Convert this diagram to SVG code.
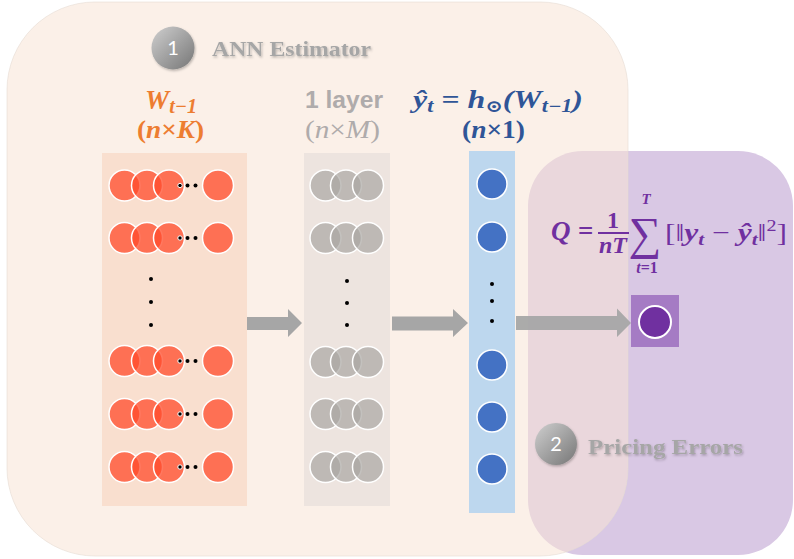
<svg xmlns="http://www.w3.org/2000/svg" width="794" height="559" viewBox="0 0 794 559">
  <defs>
    <linearGradient id="badgeGrad" x1="0" y1="0" x2="1" y2="1">
      <stop offset="0" stop-color="#CFCFCF"/>
      <stop offset="1" stop-color="#767676"/>
    </linearGradient>
    <filter id="soft" x="-20%" y="-20%" width="140%" height="140%">
      <feDropShadow dx="1" dy="1.5" stdDeviation="1" flood-color="#000" flood-opacity="0.25"/>
    </filter>
  </defs>
  <style>
    .panel-est { fill: #F8E4D5; opacity: 0.55; }
    .panel-err { fill: #D9C8E4; }
    .in-node { fill: #FF4B2B; fill-opacity: 0.75; stroke: #FFFFFF; stroke-width: 1.5; }
    .hid-node { fill: #A9A6A3; fill-opacity: 0.7; stroke: #FFFFFF; stroke-width: 1.5; }
    .out-node { fill: #4472C4; stroke: #FFFFFF; stroke-width: 1.5; }
    .dot { fill: #000000; }
    .hdot { fill: #000000; stroke: #FFFFFF; stroke-width: 1; }
    .arrow { fill: #A6A6A6; }
    .badge-num { font-family: Lato, "Open Sans", "Liberation Sans", sans-serif; font-size: 20px; fill: #FFFFFF; text-anchor: middle; }
    .title { font-family: "Liberation Serif", "DejaVu Serif", serif; font-weight: bold; font-size: 22px; fill: #A6A6A6; }
    .math { font-family: "Liberation Serif", "DejaVu Serif", serif; }
  </style>

  <!-- container panels -->
  <g id="pricing-errors-panel">
    <rect class="panel-err" x="528" y="151" width="265" height="404" rx="55" ry="55"/>
  </g>
  <g id="ann-estimator-panel">
    <rect class="panel-est" x="7" y="2" width="621" height="554" rx="88" ry="88"/>
    <rect x="7" y="2" width="621" height="554" rx="88" ry="88" fill="none" stroke="#E6DCD4" stroke-width="1" stroke-opacity="0.6"/>
  </g>

  <!-- section badges -->
  <g id="badge-ann">
    <circle cx="173" cy="48" r="21.5" fill="url(#badgeGrad)" filter="url(#soft)"/>
    <text class="badge-num" x="173" y="55">1</text>
    <text class="title" x="212" y="56" textLength="159" lengthAdjust="spacingAndGlyphs" filter="url(#soft)">ANN Estimator</text>
  </g>
  <g id="badge-pricing">
    <circle cx="556" cy="444" r="21" fill="url(#badgeGrad)" filter="url(#soft)"/>
    <text class="badge-num" x="556" y="451">2</text>
    <text class="title" x="588" y="454" textLength="155" lengthAdjust="spacingAndGlyphs" filter="url(#soft)">Pricing Errors</text>
  </g>

  <!-- input layer W_{t-1} -->
  <g id="input-layer">
    <rect x="102" y="153" width="145" height="353" fill="#F9DFCF"/>
    <text class="math" x="145" y="109" font-size="27" font-weight="bold" font-style="italic" fill="#ED7D31" textLength="52" lengthAdjust="spacingAndGlyphs">W<tspan font-size="20" dy="4">t−1</tspan></text>
    <text class="math" x="137" y="138" font-size="25" font-weight="bold" fill="#ED7D31" textLength="67" lengthAdjust="spacingAndGlyphs">(<tspan font-style="italic">n</tspan>×<tspan font-style="italic">K</tspan>)</text>
    <g id="input-row-1">
      <circle class="in-node" cx="124.5" cy="185.5" r="15.5"/>
      <circle class="in-node" cx="147" cy="185.5" r="15.5"/>
      <circle class="in-node" cx="169" cy="185.5" r="15.5"/>
      <circle class="hdot" cx="180" cy="185.5" r="2.2"/>
      <circle class="dot" cx="187.5" cy="185.5" r="2"/>
      <circle class="dot" cx="195.5" cy="185.5" r="2"/>
      <circle class="in-node" cx="218" cy="185.5" r="15.5"/>
    </g>
    <g id="input-row-2">
      <circle class="in-node" cx="124.5" cy="238" r="15.5"/>
      <circle class="in-node" cx="147" cy="238" r="15.5"/>
      <circle class="in-node" cx="169" cy="238" r="15.5"/>
      <circle class="hdot" cx="180" cy="238" r="2.2"/>
      <circle class="dot" cx="187.5" cy="238" r="2"/>
      <circle class="dot" cx="195.5" cy="238" r="2"/>
      <circle class="in-node" cx="218" cy="238" r="15.5"/>
    </g>
    <circle class="dot" cx="151" cy="279" r="2"/>
    <circle class="dot" cx="151" cy="302" r="2"/>
    <circle class="dot" cx="151" cy="325" r="2"/>
    <g id="input-row-3">
      <circle class="in-node" cx="124.5" cy="361" r="15.5"/>
      <circle class="in-node" cx="147" cy="361" r="15.5"/>
      <circle class="in-node" cx="169" cy="361" r="15.5"/>
      <circle class="hdot" cx="180" cy="361" r="2.2"/>
      <circle class="dot" cx="187.5" cy="361" r="2"/>
      <circle class="dot" cx="195.5" cy="361" r="2"/>
      <circle class="in-node" cx="218" cy="361" r="15.5"/>
    </g>
    <g id="input-row-4">
      <circle class="in-node" cx="124.5" cy="414" r="15.5"/>
      <circle class="in-node" cx="147" cy="414" r="15.5"/>
      <circle class="in-node" cx="169" cy="414" r="15.5"/>
      <circle class="hdot" cx="180" cy="414" r="2.2"/>
      <circle class="dot" cx="187.5" cy="414" r="2"/>
      <circle class="dot" cx="195.5" cy="414" r="2"/>
      <circle class="in-node" cx="218" cy="414" r="15.5"/>
    </g>
    <g id="input-row-5">
      <circle class="in-node" cx="124.5" cy="467" r="15.5"/>
      <circle class="in-node" cx="147" cy="467" r="15.5"/>
      <circle class="in-node" cx="169" cy="467" r="15.5"/>
      <circle class="hdot" cx="180" cy="467" r="2.2"/>
      <circle class="dot" cx="187.5" cy="467" r="2"/>
      <circle class="dot" cx="195.5" cy="467" r="2"/>
      <circle class="in-node" cx="218" cy="467" r="15.5"/>
    </g>
  </g>

  <!-- hidden layer -->
  <g id="hidden-layer">
    <rect x="304" y="153" width="86" height="353" fill="#EDE4DF"/>
    <text x="305" y="108" font-family="'Liberation Sans', Arial, sans-serif" font-size="23" font-weight="bold" fill="#AFABAB" textLength="78" lengthAdjust="spacingAndGlyphs">1 layer</text>
    <text class="math" x="305" y="138" font-size="25" fill="#AFABAB" textLength="75" lengthAdjust="spacingAndGlyphs">(<tspan font-style="italic">n</tspan>×<tspan font-style="italic">M</tspan>)</text>
    <g id="hidden-row-1">
      <circle class="hid-node" cx="325.5" cy="185.5" r="15.5"/>
      <circle class="hid-node" cx="346" cy="185.5" r="15.5"/>
      <circle class="hid-node" cx="368" cy="185.5" r="15.5"/>
    </g>
    <g id="hidden-row-2">
      <circle class="hid-node" cx="325.5" cy="238" r="15.5"/>
      <circle class="hid-node" cx="346" cy="238" r="15.5"/>
      <circle class="hid-node" cx="368" cy="238" r="15.5"/>
    </g>
    <circle class="dot" cx="347" cy="281" r="2"/>
    <circle class="dot" cx="347" cy="303" r="2"/>
    <circle class="dot" cx="347" cy="325" r="2"/>
    <g id="hidden-row-3">
      <circle class="hid-node" cx="325.5" cy="362" r="15.5"/>
      <circle class="hid-node" cx="346" cy="362" r="15.5"/>
      <circle class="hid-node" cx="368" cy="362" r="15.5"/>
    </g>
    <g id="hidden-row-4">
      <circle class="hid-node" cx="325.5" cy="414" r="15.5"/>
      <circle class="hid-node" cx="346" cy="414" r="15.5"/>
      <circle class="hid-node" cx="368" cy="414" r="15.5"/>
    </g>
    <g id="hidden-row-5">
      <circle class="hid-node" cx="325.5" cy="467" r="15.5"/>
      <circle class="hid-node" cx="346" cy="467" r="15.5"/>
      <circle class="hid-node" cx="368" cy="467" r="15.5"/>
    </g>
  </g>

  <!-- output layer y-hat -->
  <g id="output-layer">
    <rect x="469" y="151" width="46" height="362" fill="#BDD7EE"/>
    <text class="math" x="413" y="108" font-size="26" font-weight="bold" font-style="italic" fill="#2F5597" textLength="170" lengthAdjust="spacingAndGlyphs">ŷ<tspan font-size="18" dy="4">t</tspan><tspan dy="-4"> = h</tspan><tspan font-size="17" dy="4" font-style="normal">⊙</tspan><tspan dy="-4">(W</tspan><tspan font-size="18" dy="4">t−1</tspan><tspan dy="-4">)</tspan></text>
    <text class="math" x="462" y="138" font-size="25" font-weight="bold" fill="#2F5597" textLength="63" lengthAdjust="spacingAndGlyphs">(<tspan font-style="italic">n</tspan>×1)</text>
    <circle class="out-node" cx="492" cy="184" r="15"/>
    <circle class="out-node" cx="492" cy="237" r="15"/>
    <circle class="dot" cx="492" cy="284" r="2"/>
    <circle class="dot" cx="492" cy="301" r="2"/>
    <circle class="dot" cx="492" cy="321" r="2"/>
    <circle class="out-node" cx="492" cy="365" r="15"/>
    <circle class="out-node" cx="492" cy="417" r="15"/>
    <circle class="out-node" cx="492" cy="469" r="15"/>
  </g>

  <!-- loss node Q -->
  <g id="loss-node">
    <rect x="631" y="295" width="48" height="52" fill="#A57BC4"/>
    <circle cx="655" cy="322" r="16" fill="#7030A0" stroke="#FFFFFF" stroke-width="2"/>
    <g class="math" fill="#7030A0" font-weight="bold">
      <text x="551" y="240" font-size="27" font-style="italic">Q</text>
      <text x="578" y="240" font-size="27">=</text>
      <text x="613" y="228" font-size="24" text-anchor="middle">1</text>
      <line x1="598" y1="233" x2="629" y2="233" stroke="#7030A0" stroke-width="2"/>
      <text x="613" y="253" font-size="24" font-style="italic" text-anchor="middle">nT</text>
      <text x="646" y="204" font-size="15" font-style="italic" text-anchor="middle">T</text>
      <text x="645" y="249" font-size="46" font-weight="normal" text-anchor="middle">∑</text>
      <text x="647" y="273" font-size="16" text-anchor="middle"><tspan font-style="italic">t</tspan>=1</text>
      <text x="665" y="241" font-size="25" font-weight="normal" textLength="122" lengthAdjust="spacingAndGlyphs">[‖<tspan font-weight="bold" font-style="italic">y</tspan><tspan font-size="17" dy="4" font-weight="bold" font-style="italic">t</tspan><tspan dy="-4"> − </tspan><tspan font-weight="bold" font-style="italic">ŷ</tspan><tspan font-size="17" dy="4" font-weight="bold" font-style="italic">t</tspan><tspan dy="-4">‖</tspan><tspan font-size="16" dy="-10">2</tspan><tspan dy="10">]</tspan></text>
    </g>
  </g>

  <!-- connectors -->
  <g id="connectors">
    <polygon class="arrow" points="247,317 288,317 288,309 302,323 288,337 288,330 247,330"/>
    <polygon class="arrow" points="392,316.5 453,316.5 453,309 468,323 453,337 453,330.5 392,330.5"/>
    <polygon class="arrow" points="516,316 617,316 617,308.5 631,323 617,337 617,330 516,330" fill-opacity="0.95"/>
  </g>
</svg>
